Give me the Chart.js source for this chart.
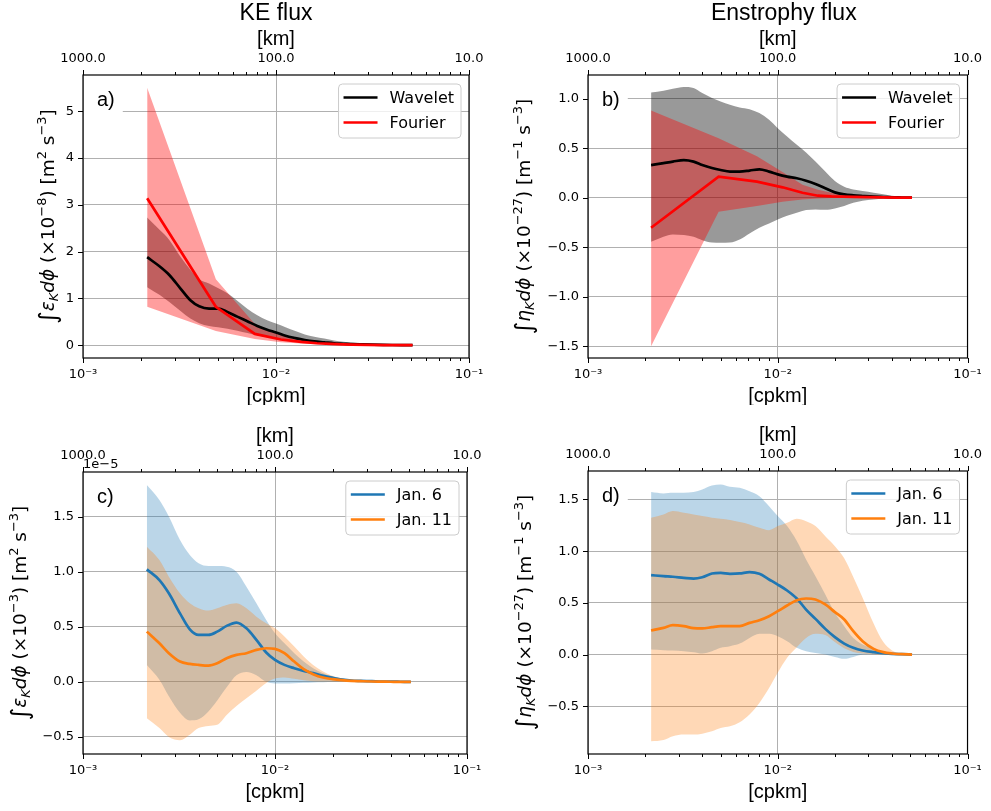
<!DOCTYPE html>
<html>
<head>
<meta charset="utf-8">
<script src="https://cdn.jsdelivr.net/npm/chart.js@4.4.1/dist/chart.umd.min.js"></script>
<style>
  html, body { margin: 0; padding: 0; background: #fff; }
  #fig { position: relative; width: 991px; height: 811px; }
  #fig canvas { position: absolute; }
</style>
</head>
<body>
<div id="fig">
  <canvas id="pa" width="495" height="405" style="left:0;top:0"></canvas>
  <canvas id="pb" width="496" height="405" style="left:495px;top:0"></canvas>
  <canvas id="pc" width="495" height="406" style="left:0;top:405px"></canvas>
  <canvas id="pd" width="496" height="406" style="left:495px;top:405px"></canvas>
</div>
<script>
// wavenumber grid [cpkm] for the wavelet curves
const kGrid = [0.00215, 0.0025, 0.0028, 0.0032, 0.0036, 0.0040, 0.0045, 0.0050, 0.0056, 0.0063,
  0.0071, 0.0080, 0.0090, 0.0100, 0.0112, 0.0126, 0.0141, 0.0158, 0.0178, 0.0200,
  0.0224, 0.0250, 0.0280, 0.0320, 0.0360, 0.0400, 0.0450, 0.0510];
// Fourier wavenumbers
const kFourier = [0.00215, 0.00488, 0.00777, 0.0106, 0.0135, 0.0163, 0.0192, 0.0220, 0.0250,
  0.0300, 0.0360, 0.0430, 0.0510];

// a) KE flux
const aWavMean = [1.88, 1.68, 1.50, 1.21, 0.96, 0.83, 0.78, 0.78, 0.71, 0.61, 0.51, 0.41, 0.33, 0.27,
  0.20, 0.15, 0.11, 0.08, 0.06, 0.04, 0.03, 0.02, 0.015, 0.01, 0.006, 0.003, 0.001, 0];
const aWavHi = [2.73, 2.46, 2.25, 1.89, 1.61, 1.41, 1.32, 1.22, 1.11, 0.95, 0.78, 0.64, 0.53, 0.46,
  0.38, 0.30, 0.23, 0.18, 0.14, 0.10, 0.07, 0.05, 0.035, 0.02, 0.01, 0.005, 0.002, 0];
const aWavLo = [1.24, 1.07, 0.92, 0.73, 0.57, 0.47, 0.41, 0.38, 0.35, 0.31, 0.26, 0.21, 0.17, 0.14,
  0.11, 0.085, 0.065, 0.05, 0.035, 0.025, 0.018, 0.012, 0.008, 0.004, 0.002, 0.001, 0, 0];
const aFouMean = [3.14, 0.82, 0.24, 0.12, 0.07, 0.04, 0.025, 0.015, 0.01, 0.005, 0.002, 0.001, 0];
const aFouHi = [5.50, 1.41, 0.45, 0.22, 0.12, 0.07, 0.04, 0.025, 0.015, 0.008, 0.004, 0.002, 0];
const aFouLo = [0.82, 0.30, 0.13, 0.06, 0.035, 0.02, 0.012, 0.008, 0.005, 0.003, 0.001, 0, 0];

// b) Enstrophy flux
const bWavMean = [0.33, 0.35, 0.365, 0.38, 0.365, 0.33, 0.30, 0.28, 0.264, 0.264, 0.274, 0.287, 0.264,
  0.236, 0.213, 0.196, 0.172, 0.139, 0.095, 0.054, 0.034, 0.024, 0.017, 0.01, 0.007, 0.004, 0.002, 0];
const bWavHi = [1.064, 1.081, 1.10, 1.118, 1.108, 1.057, 1.007, 0.973, 0.939, 0.912, 0.895, 0.855, 0.787,
  0.703, 0.618, 0.534, 0.456, 0.365, 0.264, 0.169, 0.111, 0.084, 0.068, 0.051, 0.034, 0.02, 0.01, 0];
const bWavLo = [-0.446, -0.395, -0.372, -0.378, -0.395, -0.429, -0.453, -0.456, -0.453, -0.422, -0.361,
  -0.304, -0.26, -0.22, -0.182, -0.152, -0.125, -0.118, -0.122, -0.108, -0.084, -0.051, -0.03, -0.017,
  -0.01, -0.004, -0.002, 0];
const bFouMean = [-0.304, 0.213, 0.162, 0.105, 0.05, 0.02, 0.013, 0.01, 0.008, 0.005, 0.003, 0.001, 0];
const bFouHi = [0.88, 0.60, 0.42, 0.26, 0.13, 0.08, 0.05, 0.03, 0.02, 0.01, 0.005, 0.002, 0];
const bFouLo = [-1.50, -0.142, -0.085, -0.04, -0.017, -0.007, -0.004, -0.002, -0.001, 0, 0, 0, 0];

// c) KE flux by date
const cJan6Mean = [1.021, 0.924, 0.804, 0.622, 0.477, 0.426, 0.426, 0.456, 0.508, 0.538, 0.486, 0.381,
  0.266, 0.199, 0.154, 0.124, 0.10, 0.079, 0.054, 0.036, 0.021, 0.012, 0.009, 0.006, 0.003, 0.002, 0.001, 0];
const cJan6Hi = [1.786, 1.65, 1.50, 1.287, 1.151, 1.076, 1.051, 1.051, 1.045, 1.0, 0.864, 0.713, 0.562,
  0.441, 0.35, 0.26, 0.184, 0.124, 0.079, 0.048, 0.03, 0.018, 0.012, 0.006, 0.003, 0.002, 0.001, 0];
const cJan6Lo = [0.154, 0.02, -0.13, -0.28, -0.35, -0.34, -0.27, -0.17, -0.05, 0.06, 0.09, 0.06, 0.0,
  -0.015, -0.015, -0.012, -0.008, -0.005, -0.003, -0.002, -0.001, 0, 0, 0, 0, 0, 0, 0];
const cJan11Mean = [0.456, 0.35, 0.26, 0.184, 0.163, 0.154, 0.148, 0.169, 0.215, 0.245, 0.26, 0.29,
  0.305, 0.299, 0.26, 0.184, 0.115, 0.07, 0.039, 0.024, 0.015, 0.009, 0.006, 0.003, 0.002, 0.001, 0, 0];
const cJan11Hi = [1.227, 1.106, 0.955, 0.804, 0.713, 0.668, 0.647, 0.668, 0.698, 0.713, 0.668, 0.592,
  0.532, 0.486, 0.411, 0.32, 0.23, 0.154, 0.094, 0.054, 0.03, 0.018, 0.009, 0.005, 0.003, 0.001, 0, 0];
const cJan11Lo = [-0.33, -0.42, -0.50, -0.53, -0.48, -0.42, -0.40, -0.39, -0.30, -0.22, -0.15, -0.08,
  -0.01, 0.03, 0.04, 0.027, 0.015, 0.006, 0.003, 0.001, 0, 0, 0, 0, 0, 0, 0, 0];

// d) Enstrophy flux by date
const dJan6Mean = [0.768, 0.758, 0.752, 0.742, 0.735, 0.748, 0.784, 0.79, 0.781, 0.784, 0.797, 0.781,
  0.726, 0.677, 0.619, 0.542, 0.435, 0.345, 0.248, 0.168, 0.106, 0.065, 0.039, 0.023, 0.013, 0.006, 0.003, 0];
const dJan6Hi = [1.571, 1.558, 1.565, 1.565, 1.571, 1.597, 1.635, 1.645, 1.623, 1.613, 1.58, 1.532,
  1.435, 1.339, 1.242, 1.097, 0.919, 0.758, 0.581, 0.403, 0.274, 0.161, 0.097, 0.055, 0.029, 0.016, 0.006, 0];
const dJan6Lo = [0.048, 0.042, 0.039, 0.032, 0.023, 0.01, 0.032, 0.065, 0.081, 0.106, 0.161, 0.2, 0.2,
  0.177, 0.129, 0.065, 0.032, 0.016, 0, -0.023, -0.042, -0.023, 0, 0.003, 0.001, 0, 0, 0];
const dJan11Mean = [0.232, 0.258, 0.284, 0.274, 0.255, 0.252, 0.265, 0.274, 0.274, 0.274, 0.306, 0.332,
  0.371, 0.419, 0.474, 0.526, 0.542, 0.532, 0.484, 0.41, 0.339, 0.226, 0.129, 0.055, 0.023, 0.01, 0.003, 0];
const dJan11Hi = [1.323, 1.355, 1.387, 1.371, 1.355, 1.339, 1.323, 1.313, 1.30, 1.281, 1.258, 1.226,
  1.203, 1.242, 1.274, 1.313, 1.29, 1.242, 1.145, 1.048, 0.93, 0.75, 0.55, 0.30, 0.12, 0.04, 0.01, 0];
const dJan11Lo = [-0.839, -0.826, -0.79, -0.774, -0.774, -0.765, -0.742, -0.71, -0.694, -0.655, -0.58,
  -0.468, -0.323, -0.177, -0.032, 0.07, 0.16, 0.2, 0.19, 0.12, 0.06, 0.025, 0.01, 0.003, 0.001, 0, 0, 0];

// ticks
const xMajorTicks = [0.001, 0.01, 0.1];
const xMinorTicks = [0.002, 0.003, 0.004, 0.005, 0.006, 0.007, 0.008, 0.009,
  0.02, 0.03, 0.04, 0.05, 0.06, 0.07, 0.08, 0.09];
const xMajorLabels = ['10⁻³', '10⁻²', '10⁻¹'];
const kmLabels = ['1000.0', '100.0', '10.0'];
const aYTicks = [0, 1, 2, 3, 4, 5];
const aYLabels = ['0', '1', '2', '3', '4', '5'];
const bYTicks = [-1.5, -1.0, -0.5, 0, 0.5, 1.0];
const bYLabels = ['−1.5', '−1.0', '−0.5', '0.0', '0.5', '1.0'];
const cdYTicks = [-0.5, 0, 0.5, 1.0, 1.5];
const cdYLabels = ['−0.5', '0.0', '0.5', '1.0', '1.5'];

Chart.defaults.color = '#000';
Chart.defaults.font.family = '"DejaVu Sans"';

const pts = (xs, ys) => xs.map((x, i) => ({ x: x, y: ys[i] }));

function band(xs, hi, lo, color, order, smooth) {
  const mode = smooth ? 'monotone' : 'default';
  return [
    { data: pts(xs, hi), fill: '+1', backgroundColor: color, borderWidth: 0, pointRadius: 0,
      order: order, cubicInterpolationMode: mode },
    { data: pts(xs, lo), fill: false, borderWidth: 0, pointRadius: 0, order: order,
      cubicInterpolationMode: mode }
  ];
}

function curve(label, xs, ys, color, order, smooth) {
  return { label: label, data: pts(xs, ys), borderColor: color, borderWidth: 2.7, pointRadius: 0,
    fill: false, order: order, cubicInterpolationMode: smooth ? 'monotone' : 'default' };
}

// rotated y label with sub/superscripts
function drawRich(ctx, segs, cx, cy, size) {
  const fontOf = st => {
    if (st === 'i') return 'italic ' + size + 'px "DejaVu Sans"';
    if (st === 'sub') return 'italic ' + (size * 0.7) + 'px "DejaVu Sans"';
    if (st === 'sup') return (size * 0.7) + 'px "DejaVu Sans"';
    if (st === 'int') return (size * 1.3) + 'px "DejaVu Sans"';
    return size + 'px "DejaVu Sans"';
  };
  let w = 0;
  segs.forEach(s => { ctx.font = fontOf(s[1]); w += ctx.measureText(s[0]).width; });
  ctx.save();
  ctx.translate(cx, cy);
  ctx.rotate(-Math.PI / 2);
  ctx.textAlign = 'left';
  ctx.textBaseline = 'alphabetic';
  let x = -w / 2;
  const base = size * 0.33;
  segs.forEach(s => {
    ctx.font = fontOf(s[1]);
    const dy = s[1] === 'sup' ? -0.42 * size : s[1] === 'sub' ? 0.22 * size : s[1] === 'int' ? 0.12 * size : 0;
    ctx.fillText(s[0], x, base + dy);
    x += ctx.measureText(s[0]).width;
  });
  ctx.restore();
}

const decor = {
  id: 'decor',
  afterDraw(chart, args, o) {
    const ctx = chart.ctx, a = chart.chartArea;
    const xs = chart.scales.x, ys = chart.scales.y;
    const cx = (a.left + a.right) / 2;
    const seg = (x1, y1, x2, y2) => { ctx.beginPath(); ctx.moveTo(x1, y1); ctx.lineTo(x2, y2); ctx.stroke(); };
    ctx.save();

    // panel letter on a white box
    ctx.font = '20px "Liberation Sans"';
    const lw = ctx.measureText(o.letter).width;
    const lx = a.left + 14, lb = a.top + 31;
    ctx.fillStyle = '#fff';
    ctx.fillRect(a.left + 1, lb - 22, lx + lw + 8 - a.left - 1, 29);
    ctx.fillStyle = '#000';
    ctx.textAlign = 'left';
    ctx.textBaseline = 'alphabetic';
    ctx.fillText(o.letter, lx, lb);

    // frame
    ctx.strokeStyle = '#000';
    ctx.lineWidth = 1.2;
    ctx.strokeRect(a.left, a.top, a.right - a.left, a.bottom - a.top);

    // tick marks (outward)
    ctx.lineWidth = 1;
    xs.ticks.forEach(t => {
      const px = Math.round(xs.getPixelForValue(t.value)) + 0.5;
      const len = t.major ? 5 : 3;
      seg(px, a.bottom, px, a.bottom + len);
      seg(px, a.top, px, a.top - len);
    });
    ys.ticks.forEach(t => {
      const py = Math.round(ys.getPixelForValue(t.value)) + 0.5;
      seg(a.left - 5, py, a.left, py);
    });

    // titles and axis labels
    ctx.fillStyle = '#000';
    ctx.textAlign = 'center';
    if (o.title) {
      ctx.font = '23px "Liberation Sans"';
      ctx.fillText(o.title, cx + o.titleDx, 20);
    }
    ctx.font = '20px "Liberation Sans"';
    ctx.fillText('[km]', cx, a.top - 30);
    ctx.fillText('[cpkm]', cx, a.bottom + 43.5);
    if (o.offsetText) {
      ctx.font = '13px "DejaVu Sans"';
      ctx.textAlign = 'left';
      ctx.fillText(o.offsetText, a.left, a.top - 4);
    }
    drawRich(ctx, o.ylabel, o.ylabelX, (a.top + a.bottom) / 2, 18.5);

    // legend
    const items = chart.data.datasets.filter(d => d.label);
    ctx.font = '16px "DejaVu Sans"';
    const tw = Math.max.apply(null, items.map(d => ctx.measureText(d.label).width));
    const bw = 58 + tw, bh = 54, bx = a.right - 8 - bw, by = a.top + 9;
    ctx.beginPath();
    ctx.roundRect(bx, by, bw, bh, 4);
    ctx.fillStyle = 'rgba(255,255,255,0.8)';
    ctx.fill();
    ctx.strokeStyle = '#cccccc';
    ctx.lineWidth = 1;
    ctx.stroke();
    items.forEach((d, i) => {
      const y = by + 13.5 + i * 25;
      ctx.strokeStyle = d.borderColor;
      ctx.lineWidth = 2.7;
      seg(bx + 5, y, bx + 39, y);
      ctx.fillStyle = '#000';
      ctx.textAlign = 'left';
      ctx.textBaseline = 'middle';
      ctx.fillText(d.label, bx + 51, y + 1);
    });
    ctx.restore();
  }
};

function logAxis(pos, h) {
  return {
    type: 'logarithmic', position: pos, min: 0.001, max: 0.1,
    afterBuildTicks: s => {
      s.ticks = xMajorTicks.map(v => ({ value: v, major: true }))
        .concat(xMinorTicks.map(v => ({ value: v, major: false })))
        .sort((p, q) => p.value - q.value);
    },
    afterFit: s => { s.height = h; },
    grid: { display: pos === 'bottom', drawTicks: false, lineWidth: 1,
      color: c => (c.tick && c.tick.major) ? '#b0b0b0' : 'rgba(0,0,0,0)' },
    border: { display: false },
    ticks: {
      autoSkip: false, maxRotation: 0, minRotation: 0, padding: 9,
      font: { family: '"DejaVu Sans"', size: 13 },
      callback: v => {
        const i = xMajorTicks.indexOf(v);
        if (i < 0) return '';
        return pos === 'bottom' ? xMajorLabels[i] : kmLabels[i];
      }
    }
  };
}

function makePanel(id, p) {
  const W = document.getElementById(id).width, H = document.getElementById(id).height;
  new Chart(document.getElementById(id), {
    type: 'line',
    data: { datasets: p.datasets },
    options: {
      responsive: false, animation: false, devicePixelRatio: 1,
      layout: { padding: { left: 0, top: 0, bottom: 0, right: W - p.right } },
      plugins: { legend: { display: false }, tooltip: { enabled: false }, decor: p.decor },
      scales: {
        x: logAxis('bottom', H - p.bottom),
        x2: logAxis('top', p.top),
        y: {
          type: 'linear', min: p.yMin, max: p.yMax,
          afterBuildTicks: s => { s.ticks = p.yTicks.map(v => ({ value: v })); },
          afterFit: s => { s.width = p.left; },
          grid: { drawTicks: false, color: '#b0b0b0', lineWidth: 1 },
          border: { display: false },
          ticks: { padding: 9, font: { family: '"DejaVu Sans"', size: 13 },
            callback: v => p.yLabels[p.yTicks.indexOf(v)] }
        }
      }
    },
    plugins: [decor]
  });
}

const labelKE = exp => [['∫', 'int'], ['ε', 'i'], ['K', 'sub'], ['dϕ', 'i'], [' (×10', 'n'], [exp, 'sup'],
  [') [m', 'n'], ['2', 'sup'], [' s', 'n'], ['−3', 'sup'], [']', 'n']];
const labelEns = [['∫', 'int'], ['η', 'i'], ['K', 'sub'], ['dϕ', 'i'], [' (×10', 'n'], ['−27', 'sup'],
  [') [m', 'n'], ['−1', 'sup'], [' s', 'n'], ['−3', 'sup'], [']', 'n']];

const GRAY = 'rgba(0,0,0,0.4)', PINK = 'rgba(255,0,0,0.38)';
const BLUE_F = 'rgba(31,119,180,0.3)', ORANGE_F = 'rgba(255,127,14,0.3)';

makePanel('pa', {
  left: 83, right: 469, top: 75, bottom: 358, yMin: -0.275, yMax: 5.775,
  yTicks: aYTicks, yLabels: aYLabels,
  datasets: [].concat(
    band(kGrid, aWavHi, aWavLo, GRAY, 10, true),
    band(kFourier, aFouHi, aFouLo, PINK, 9, false),
    [curve('Wavelet', kGrid, aWavMean, '#000000', 2, true),
     curve('Fourier', kFourier, aFouMean, '#ff0000', 1, false)]),
  decor: { title: 'KE flux', titleDx: 0, letter: 'a)', ylabel: labelKE('−8'), ylabelX: 47.5 }
});

makePanel('pb', {
  left: 93, right: 478, top: 75, bottom: 358, yMin: -1.62, yMax: 1.24,
  yTicks: bYTicks, yLabels: bYLabels,
  datasets: [].concat(
    band(kGrid, bWavHi, bWavLo, GRAY, 10, true),
    band(kFourier, bFouHi, bFouLo, PINK, 9, false),
    [curve('Wavelet', kGrid, bWavMean, '#000000', 2, true),
     curve('Fourier', kFourier, bFouMean, '#ff0000', 1, false)]),
  decor: { title: 'Enstrophy flux', titleDx: 6, letter: 'b)', ylabel: labelEns, ylabelX: 29 }
});

makePanel('pc', {
  left: 83, right: 467, top: 67, bottom: 349, yMin: -0.655, yMax: 1.905,
  yTicks: cdYTicks, yLabels: cdYLabels,
  datasets: [].concat(
    band(kGrid, cJan6Hi, cJan6Lo, BLUE_F, 10, true),
    band(kGrid, cJan11Hi, cJan11Lo, ORANGE_F, 9, true),
    [curve('Jan. 6', kGrid, cJan6Mean, '#1f77b4', 2, true),
     curve('Jan. 11', kGrid, cJan11Mean, '#ff7f0e', 1, true)]),
  decor: { title: null, titleDx: 0, letter: 'c)', ylabel: labelKE('−3'), ylabelX: 20, offsetText: '1e−5' }
});

makePanel('pd', {
  left: 93, right: 477, top: 66, bottom: 349, yMin: -0.962, yMax: 1.775,
  yTicks: cdYTicks, yLabels: cdYLabels,
  datasets: [].concat(
    band(kGrid, dJan6Hi, dJan6Lo, BLUE_F, 10, true),
    band(kGrid, dJan11Hi, dJan11Lo, ORANGE_F, 9, true),
    [curve('Jan. 6', kGrid, dJan6Mean, '#1f77b4', 2, true),
     curve('Jan. 11', kGrid, dJan11Mean, '#ff7f0e', 1, true)]),
  decor: { title: null, titleDx: 0, letter: 'd)', ylabel: labelEns, ylabelX: 30 }
});
</script>
</body>
</html>
